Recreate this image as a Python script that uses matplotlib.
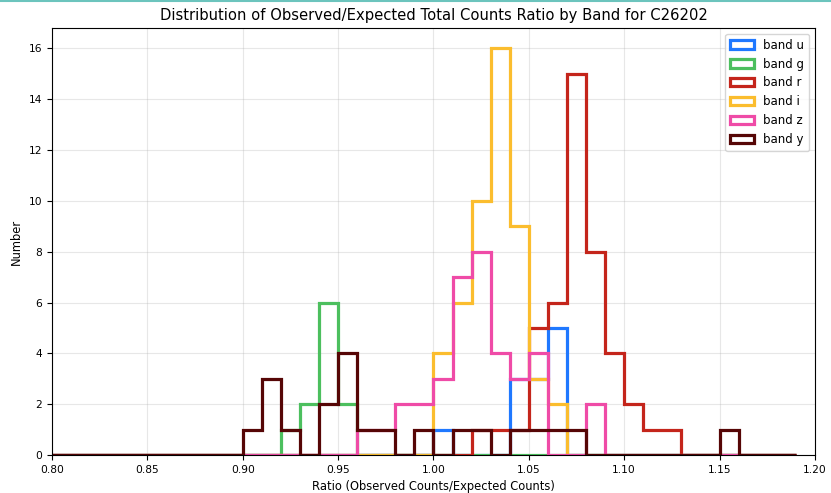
import matplotlib
matplotlib.use('Agg')
import matplotlib.pyplot as plt
import numpy as np

# bin edges 0.80 ... 1.19, width 0.01
edges = np.round(np.arange(0.80, 1.1951, 0.01), 2)
centers = edges[:-1] + 0.005

bands = ['u', 'g', 'r', 'i', 'z', 'y']
colors = ['#1f78ff', '#4cbf5e', '#c4251b', '#fbbd2e', '#ef4ba7', '#560606']

counts_u = [0, 0, 0, 0, 0, 0, 0, 0, 0, 0,
            0, 0, 0, 0, 0, 0, 0, 0, 0, 0,
            1, 0, 0, 0, 3, 3, 5, 0, 0, 0,
            0, 0, 0, 0, 0, 0, 0, 0, 0]
counts_g = [0, 0, 0, 0, 0, 0, 0, 0, 0, 0,
            0, 0, 1, 2, 6, 2, 0, 0, 0, 0,
            0, 0, 0, 0, 0, 0, 0, 0, 0, 0,
            0, 0, 0, 0, 0, 0, 0, 0, 0]
counts_r = [0, 0, 0, 0, 0, 0, 0, 0, 0, 0,
            0, 0, 0, 0, 0, 0, 0, 0, 0, 0,
            0, 0, 1, 1, 1, 5, 6, 15, 8, 4,
            2, 1, 1, 0, 0, 0, 0, 0, 0]
counts_i = [0, 0, 0, 0, 0, 0, 0, 0, 0, 0,
            0, 0, 0, 0, 0, 0, 0, 0, 0, 0,
            4, 6, 10, 16, 9, 3, 2, 0, 0, 0,
            0, 0, 0, 0, 0, 0, 0, 0, 0]
counts_z = [0, 0, 0, 0, 0, 0, 0, 0, 0, 0,
            0, 0, 0, 0, 0, 0, 1, 1, 2, 2,
            3, 7, 8, 4, 3, 4, 0, 0, 2, 0,
            0, 0, 0, 0, 0, 0, 0, 0, 0]
counts_y = [0, 0, 0, 0, 0, 0, 0, 0, 0, 0,
            1, 3, 1, 0, 2, 4, 1, 1, 0, 1,
            0, 1, 1, 0, 1, 1, 1, 1, 0, 0,
            0, 0, 0, 0, 0, 1, 0, 0, 0]

all_counts = [counts_u, counts_g, counts_r, counts_i, counts_z, counts_y]

fig = plt.figure(figsize=(8.31, 4.93), dpi=100)
ax = fig.add_axes([0.0626, 0.0771, 0.918, 0.866])

for band, col, cnt in zip(bands, colors, all_counts):
    ax.hist(centers, bins=edges, weights=cnt, histtype='step',
            color=col, linewidth=2.3, label=f'band {band}')

ax.set_xlim(0.80, 1.20)
ax.set_ylim(0, 16.8)
ax.set_xticks(np.round(np.arange(0.80, 1.2001, 0.05), 2))
ax.set_yticks(range(0, 17, 2))
ax.tick_params(labelsize=7.7)
ax.grid(True, alpha=0.3)
ax.set_title('Distribution of Observed/Expected Total Counts Ratio by Band for C26202',
             fontsize=10.6)
ax.set_xlabel('Ratio (Observed Counts/Expected Counts)', fontsize=8.3)
ax.set_ylabel('Number', fontsize=8.3)
ax.legend(loc='upper right', fontsize=8.5)

# thin teal strip along the top edge of the screenshot
fig.add_artist(plt.Line2D([0, 1], [0.998, 0.998], color='#6cc4bd', linewidth=1.5))

fig.savefig('out.png', dpi=100)
